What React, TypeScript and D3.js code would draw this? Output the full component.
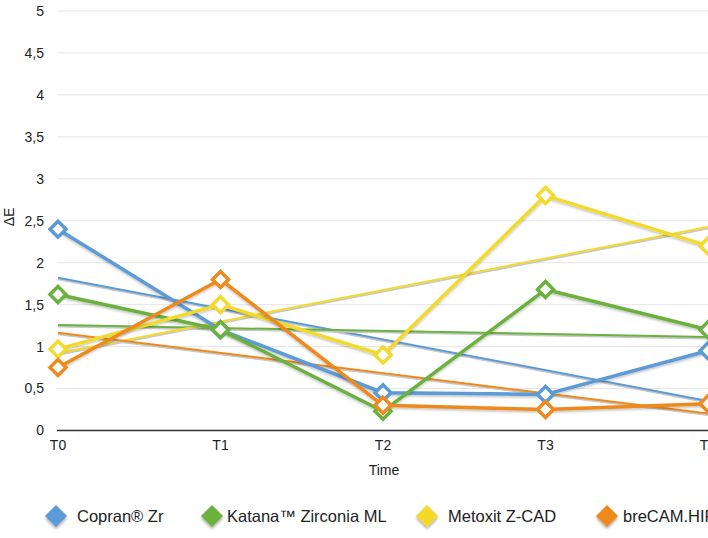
import React from "react";
import * as d3 from "d3";

const categories = ["T0", "T1", "T2", "T3", "T4"];
const seriesNames = ["Copran® Zr", "Katana™ Zirconia ML", "Metoxit Z-CAD", "breCAM.HIPC"];
const copran = [2.4, 1.2, 0.45, 0.43, 0.95];
const katana = [1.62, 1.2, 0.23, 1.68, 1.2];
const metoxit = [0.97, 1.5, 0.9, 2.8, 2.2];
const brecam = [0.75, 1.8, 0.3, 0.25, 0.32];
const yTicks = [0, 0.5, 1, 1.5, 2, 2.5, 3, 3.5, 4, 4.5, 5];
const colors = ["#5b9bd5", "#6ab23e", "#f3da2b", "#ee8a1d"];

const W = 708;
const H = 538;

function regression(vals: number[]) {
  const n = vals.length;
  const xm = (n - 1) / 2;
  const ym = d3.mean(vals) as number;
  let num = 0, den = 0;
  vals.forEach((v, i) => { num += (i - xm) * (v - ym); den += (i - xm) ** 2; });
  const slope = num / den;
  return [ym - slope * xm, ym + slope * (n - 1 - xm)];
}

export default function App() {
  const data = [copran, katana, metoxit, brecam];
  const x = d3.scalePoint<string>().domain(categories).range([58, 708]).padding(0);
  const y = d3.scaleLinear().domain([0, 5]).range([430.5, 11]);
  const line = d3.line<number>().x((_, i) => x(categories[i]) as number).y((d) => y(d));
  const fmt = (v: number) => String(v).replace(".", ",");
  const diamond = (cx: number, cy: number, r: number) =>
    `M${cx},${cy - r}L${cx + r},${cy}L${cx},${cy + r}L${cx - r},${cy}Z`;
  const legendX = [56, 212, 427, 607];
  const legendTextX = [77, 227, 448, 623];
  const font = "'Liberation Sans', Arial, Helvetica, sans-serif";

  return (
    <svg width={W} height={H} style={{ position: "absolute", left: 0, top: 0, background: "#fff" }} fontFamily={font}>
      <defs>
        <filter id="sh" x="-20%" y="-20%" width="140%" height="140%">
          <feDropShadow dx="0" dy="1.5" stdDeviation="1" floodColor="#000" floodOpacity="0.25" />
        </filter>
        <filter id="lsh" x="-50%" y="-50%" width="200%" height="200%">
          <feDropShadow dx="0" dy="2" stdDeviation="1.5" floodColor="#000" floodOpacity="0.35" />
        </filter>
      </defs>
      {yTicks.map((t) => (
        <g key={t}>
          {t > 0 && <line x1={57} x2={W} y1={y(t)} y2={y(t)} stroke="#e5e5e5" strokeWidth={1} />}
          <text x={44} y={y(t)} dy="0.35em" textAnchor="end" fontSize={14} fill="#222">{fmt(t)}</text>
        </g>
      ))}
      <line x1={57} x2={W} y1={y(0)} y2={y(0)} stroke="#333" strokeWidth={1.5} />
      {categories.map((c) => (
        <text key={c} x={x(c)} y={450} textAnchor="middle" fontSize={14} fill="#222">{c}</text>
      ))}
      <text x={384} y={475} textAnchor="middle" fontSize={14} fill="#222">Time</text>
      <text transform="translate(14,217) rotate(-90)" textAnchor="middle" fontSize={14} fill="#222">ΔE</text>

      {data.map((vals, i) => {
        const [a, b] = regression(vals);
        return (
          <g key={"t" + i}>
            <line x1={x(categories[0])} x2={x(categories[4])} y1={y(a) + 1.5} y2={y(b) + 1.5} stroke="#c8c8c8" strokeWidth={2} />
            <line x1={x(categories[0])} x2={x(categories[4])} y1={y(a)} y2={y(b)} stroke={colors[i]} strokeWidth={2} />
          </g>
        );
      })}
      {data.map((vals, i) => (
        <path key={"l" + i} d={line(vals) as string} fill="none" stroke={colors[i]} strokeWidth={3.5} strokeLinejoin="round" filter="url(#sh)" />
      ))}
      {data.map((vals, i) => (
        <g key={"m" + i}>
          {vals.map((v, j) => (
            <path key={j} d={diamond(x(categories[j]) as number, y(v), 8)} fill="#fff" stroke={colors[i]} strokeWidth={3.5} />
          ))}
        </g>
      ))}

      {seriesNames.map((n, i) => (
        <g key={n}>
          <path d={diamond(legendX[i], 516, 11)} fill={colors[i]} filter="url(#lsh)" />
          <text x={legendTextX[i]} y={516} dy="0.35em" fontSize={16.5} fill="#222">{n}</text>
        </g>
      ))}
    </svg>
  );
}
